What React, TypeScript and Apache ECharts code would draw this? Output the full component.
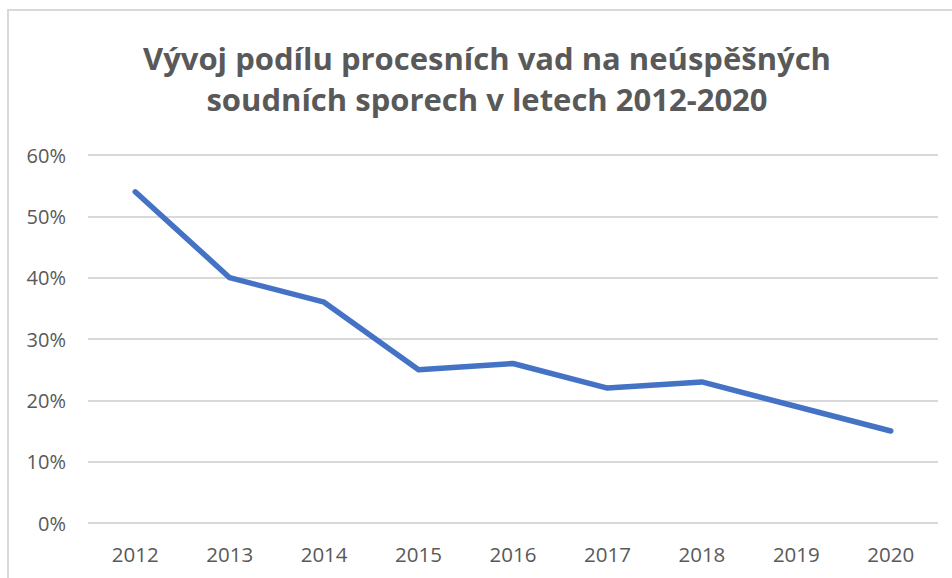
import React, { useEffect, useRef } from "react";
import * as echarts from "echarts";

const titleLines = [
  "Vývoj podílu procesních vad na neúspěšných",
  "soudních sporech v letech 2012-2020",
];
const years = ["2012", "2013", "2014", "2015", "2016", "2017", "2018", "2019", "2020"];
const shares = [0.54, 0.4, 0.36, 0.25, 0.26, 0.22, 0.23, 0.19, 0.15];
const yMin = 0;
const yMax = 0.6;
const yStep = 0.1;

const FONT = "'Open Sans', 'Noto Sans', sans-serif";
const TEXT = "#595959";

export default function App() {
  const ref = useRef<HTMLDivElement>(null);
  useEffect(() => {
    if (!ref.current) return;
    const chart = echarts.init(ref.current, null, { renderer: "svg" });
    chart.setOption({
      animation: false,
      backgroundColor: "#ffffff",
      graphic: [
        {
          type: "rect",
          shape: { x: 8, y: 10, width: 1000, height: 1000 },
          style: { fill: "none", stroke: "#d9d9d9", lineWidth: 2 },
          silent: true,
        },
        {
          type: "text",
          x: 487,
          y: 58,
          style: {
            text: titleLines[0],
            textAlign: "center",
            textVerticalAlign: "middle",
            fontFamily: FONT,
            fontWeight: "bold",
            fontSize: 31,
            fill: TEXT,
          },
        },
        {
          type: "text",
          x: 487,
          y: 99,
          style: {
            text: titleLines[1],
            textAlign: "center",
            textVerticalAlign: "middle",
            fontFamily: FONT,
            fontWeight: "bold",
            fontSize: 31,
            fill: TEXT,
          },
        },
      ],
      grid: { left: 88, right: 14, top: 155, bottom: 55, containLabel: false },
      xAxis: {
        type: "category",
        data: years,
        boundaryGap: true,
        axisLine: { show: false },
        axisTick: { show: false },
        axisLabel: { color: TEXT, fontFamily: FONT, fontSize: 20.5, margin: 20 },
      },
      yAxis: {
        type: "value",
        min: yMin,
        max: yMax,
        interval: yStep,
        axisLine: { show: false },
        axisTick: { show: false },
        splitLine: { lineStyle: { color: "#d9d9d9", width: 2 } },
        axisLabel: {
          color: TEXT,
          fontFamily: FONT,
          fontSize: 20,
          margin: 22,
          formatter: (v: number) => `${Math.round(v * 100)}%`,
        },
      },
      series: [
        {
          type: "line",
          data: shares,
          showSymbol: false,
          symbol: "none",
          lineStyle: { color: "#4472C4", width: 5.5, cap: "round", join: "round" },
        },
      ],
    });
    return () => chart.dispose();
  }, []);
  return (
    <div
      ref={ref}
      style={{ position: "fixed", left: 0, top: 0, width: 952, height: 578 }}
    />
  );
}
